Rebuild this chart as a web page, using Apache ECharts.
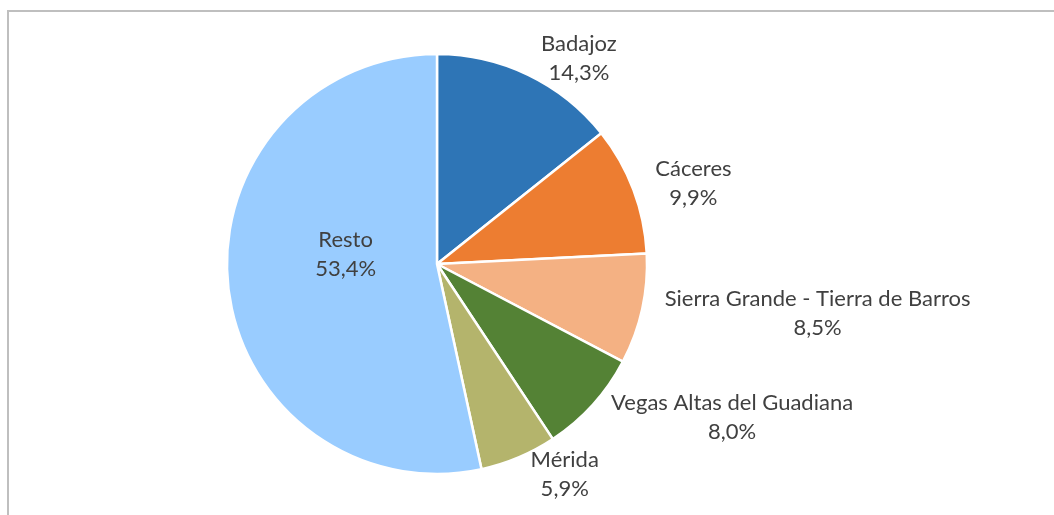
<!DOCTYPE html>
<html>
<head>
<meta charset="utf-8">
<script src="https://cdn.jsdelivr.net/npm/echarts@6/dist/echarts.min.js"></script>
<style>
  html, body { margin: 0; padding: 0; background: #fff; overflow: hidden; }
  #frame { position: absolute; left: 7px; top: 10px; width: 1100px; height: 560px; border: 2px solid #bfbfbf; box-sizing: border-box; }
  #chart { position: absolute; left: 0; top: 0; width: 1054px; height: 515px; }
</style>
</head>
<body>
<div id="frame"></div>
<div id="chart"></div>
<script>
// comarcas y su cuota
var categories = ['Badajoz', 'Cáceres', 'Sierra Grande - Tierra de Barros', 'Vegas Altas del Guadiana', 'Mérida', 'Resto'];
var shares = [14.3, 9.9, 8.5, 8.0, 5.9, 53.4];
var colors = ['#2e75b6', '#ed7d31', '#f4b183', '#548235', '#b4b46c', '#99ccff'];

var pieData = categories.map(function (name, i) {
    var item = { name: name, value: shares[i], itemStyle: { color: colors[i] } };
    if (name === 'Resto') {
        // la etiqueta grande va dentro, algo mas arriba
        item.label = { position: 'inside', offset: [16, -21] };
    }
    return item;
});

var chartPie = {
    animation: false,
    series: [
        {
            type: 'pie',
            center: [437, 264],
            radius: 210,
            startAngle: 90,
            clockwise: true,
            avoidLabelOverlap: false,
            itemStyle: {
                borderColor: '#fff',
                borderWidth: 2.5
            },
            label: {
                show: true,
                position: 'outside',
                color: '#404040',
                fontFamily: 'Lato',
                fontSize: 22,
                lineHeight: 29,
                formatter: function (p) {
                    return p.name + '\n' + p.value.toFixed(1).replace('.', ',') + '%';
                }
            },
            labelLine: { show: false, length: 18, length2: 0 },
            labelLayout: function (params) {
                if (params.dataIndex === 5) return {};
                var r = params.labelRect;
                return { x: r.x + r.width / 2, y: r.y + r.height / 2, align: 'center', verticalAlign: 'middle' };
            },
            data: pieData
        }
    ]
};

var myChartPie = echarts.init(document.getElementById('chart'));
myChartPie.setOption(chartPie);
</script>
</body>
</html>
